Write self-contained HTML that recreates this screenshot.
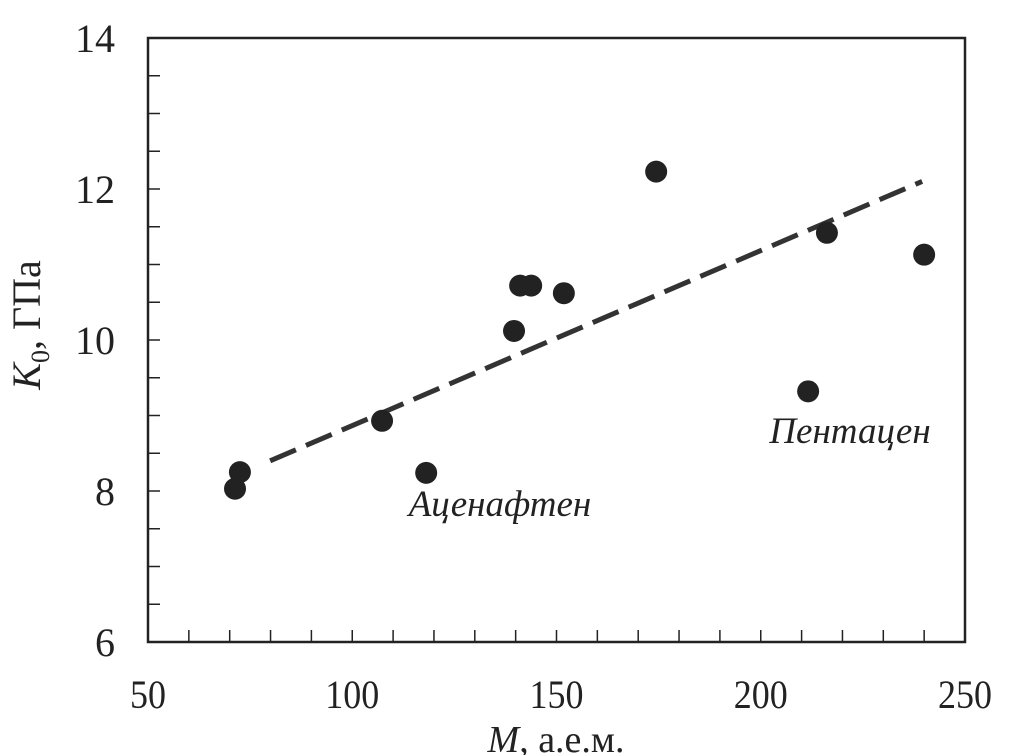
<!DOCTYPE html>
<html><head><meta charset="utf-8"><style>
body{margin:0;background:#fff}
svg{display:block;font-family:"Liberation Serif",serif}
</style></head><body>
<svg width="1025" height="755">
<g id="axes"></g><g id="marks"></g>
</svg>
<script>
const xs=[71.3,72.5,107.3,118.1,139.6,141.1,143.8,151.8,174.4,211.6,216.2,240];
const ys=[8.03,8.25,8.93,8.24,10.12,10.72,10.72,10.62,12.23,9.32,11.42,11.13];
const fitX=[79.9,239.5];
const fitY=[8.40,12.10];
const xTicks=[50,100,150,200,250];
const yTicks=[6,8,10,12,14];
const L=148,R=965,T=38,B=642;
const X=v=>L+(v-50)*(R-L)/200;
const Y=v=>B-(v-6)*(B-T)/8;
const NS='http://www.w3.org/2000/svg';
function mk(tag,attrs,parent,txt){const e=document.createElementNS(NS,tag);for(const k in attrs)e.setAttribute(k,attrs[k]);if(txt!==undefined)e.textContent=txt;document.getElementById(parent).appendChild(e);return e;}
let e=mk('rect',{x:L,y:T,width:R-L,height:B-T,fill:'none',stroke:'#222','stroke-width':2.5},'axes');

for(let v=60;v<250;v+=10){e=mk('line',{x1:X(v),x2:X(v),y1:B,y2:B-12,stroke:'#222','stroke-width':1.5},'axes');
}
for(let v=6.5;v<14;v+=0.5){e=mk('line',{x1:L,x2:L+12,y1:Y(v),y2:Y(v),stroke:'#222','stroke-width':1.5},'axes');
}
xTicks.forEach(v=>{e=mk('text',{x:X(v),y:708,'text-anchor':'middle','font-size':40,fill:'#222',textLength:String(v).length*18,lengthAdjust:'spacingAndGlyphs'},'axes',v);
});
yTicks.forEach(v=>{e=mk('text',{x:115,y:Y(v)+14,'text-anchor':'end','font-size':40,fill:'#222'},'axes',v);
});
e=mk('text',{x:556,y:752,'text-anchor':'middle','font-size':38,fill:'#222'},'axes');
e.innerHTML='<tspan font-style="italic">M</tspan>, а.е.м.';

e=mk('text',{x:0,y:0,'text-anchor':'middle','font-size':40,fill:'#222',transform:'translate(40,325) rotate(-90)'},'axes');
e.innerHTML='<tspan font-style="italic">K</tspan><tspan font-size="26" dy="9">0</tspan><tspan dy="-9">, ГПа</tspan>';

e=mk('line',{x1:X(fitX[0]),y1:Y(fitY[0]),x2:X(fitX[1]),y2:Y(fitY[1]),stroke:'#333','stroke-width':5,'stroke-dasharray':'28 11'},'marks');

xs.forEach((v,i)=>{e=mk('circle',{cx:X(v),cy:Y(ys[i]),r:11,fill:'#222'},'marks');
});
e=mk('text',{x:500,y:516,'text-anchor':'middle','font-size':37,'font-style':'italic',fill:'#222'},'marks','Аценафтен');

e=mk('text',{x:850,y:443,'text-anchor':'middle','font-size':37,'font-style':'italic',fill:'#222'},'marks','Пентацен');

</script>
</body></html>
